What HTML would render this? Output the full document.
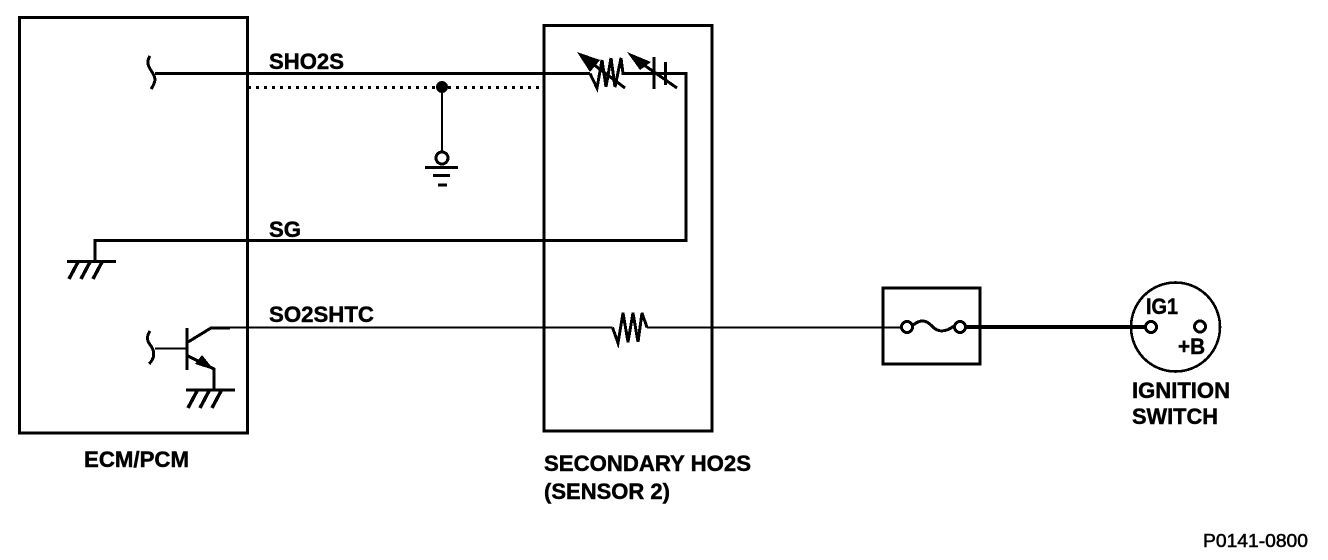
<!DOCTYPE html>
<html><head><meta charset="utf-8"><style>
html,body{margin:0;padding:0;background:#fff;width:1328px;height:560px;overflow:hidden}
svg{display:block}
text{font-family:"Liberation Sans",Arial,sans-serif;font-weight:bold;font-size:22px;fill:#000;stroke:#000;stroke-width:.45}
</style></head><body>
<svg width="1328" height="560" viewBox="0 0 1328 560" xmlns="http://www.w3.org/2000/svg">
<rect width="1328" height="560" fill="#fff"/>
<g fill="none" stroke="#000" stroke-width="3" shape-rendering="crispEdges">
<rect x="19.5" y="17.5" width="228" height="415.5"/>
<rect x="544" y="25.5" width="168" height="405.5"/>
<rect x="883" y="288" width="97" height="76"/>
<circle cx="1175.5" cy="327" r="44.5" stroke-width="2.6"/>
<!-- SHO2S wire -->
<path d="M155 73.5H590"/>
<path d="M150 56C146 62 148 66 152 72C156 78 156 82 151 89"/>
<path d="M590 73.5L597 88L602 60L606 87L611 58L615 87L621 58L623 73.5H654"/>
<path d="M654 73.5H686V240.5H95V261"/>
<path d="M654 57V89M665.5 62V85"/>
<path d="M585 58L625 88M634 58L677 88"/>
<path d="M248 87.5H544" stroke-dasharray="3 5"/>
<path d="M442 87V153" stroke-width="2"/>
<circle cx="442" cy="158" r="6"/>
<path d="M425 167.5H458"/>
<path d="M433 175.5H450M438 185H447"/>
<!-- ground 1 -->
<path d="M67 261.5H116"/>
<path d="M78 262L69 279M90 262L81 279M102 262L93 279" stroke-width="3.5"/>
<!-- transistor -->
<path d="M187 328V370"/>
<path d="M155 348.5H187" stroke-width="2"/>
<path d="M150 331C146 337 147 341 151 346C155 352 155 358 149 364"/>
<path d="M188 342L211 328H230"/>
<path d="M188 356L214 369V390"/>
<path d="M186 390H235"/>
<path d="M197 391L188 408M209 391L200 408M221 391L212 408" stroke-width="3.5"/>
<!-- SO2SHTC wire -->
<path d="M230 327.5H612.5M647 327.5H901" stroke-width="2"/>
<path d="M612.5 327.5L618 343L623 313L628 342L633 313L638 342L642 313L647 327.5"/>
<circle cx="907" cy="327" r="5.5"/>
<circle cx="960" cy="327" r="5.5"/>
<path d="M913 325C921 319 926 320 932 326C938 333 946 332 954 326"/>
<path d="M966 327H1145" stroke-width="4"/>
<circle cx="1151" cy="327" r="5.5"/>
<circle cx="1200" cy="326.5" r="5.5"/>
</g>
<g fill="#000" shape-rendering="crispEdges">
<circle cx="442" cy="87" r="6"/>
<path d="M577 52L600 60L590 72Z"/>
<path d="M627 52L651 62L640 70Z"/>
<path d="M214 370L195 364L202 355Z"/>
</g>
<text x="269" y="69" textLength="75" lengthAdjust="spacingAndGlyphs">SHO2S</text>
<text x="269" y="237" textLength="32" lengthAdjust="spacingAndGlyphs">SG</text>
<text x="269" y="322" textLength="105" lengthAdjust="spacingAndGlyphs">SO2SHTC</text>
<text x="84" y="467" textLength="105" lengthAdjust="spacingAndGlyphs">ECM/PCM</text>
<text x="544" y="471" textLength="207" lengthAdjust="spacingAndGlyphs">SECONDARY HO2S</text>
<text x="544" y="499" textLength="126" lengthAdjust="spacingAndGlyphs">(SENSOR 2)</text>
<text x="1146" y="314" textLength="32" lengthAdjust="spacingAndGlyphs">IG1</text>
<text x="1178" y="354" textLength="27" lengthAdjust="spacingAndGlyphs">+B</text>
<text x="1132" y="398" textLength="98" lengthAdjust="spacingAndGlyphs">IGNITION</text>
<text x="1132" y="424" textLength="86" lengthAdjust="spacingAndGlyphs">SWITCH</text>
<text x="1203" y="547" textLength="105" lengthAdjust="spacingAndGlyphs" style="font-size:18px;font-weight:normal;stroke-width:.5">P0141-0800</text>
</svg>
</body></html>
